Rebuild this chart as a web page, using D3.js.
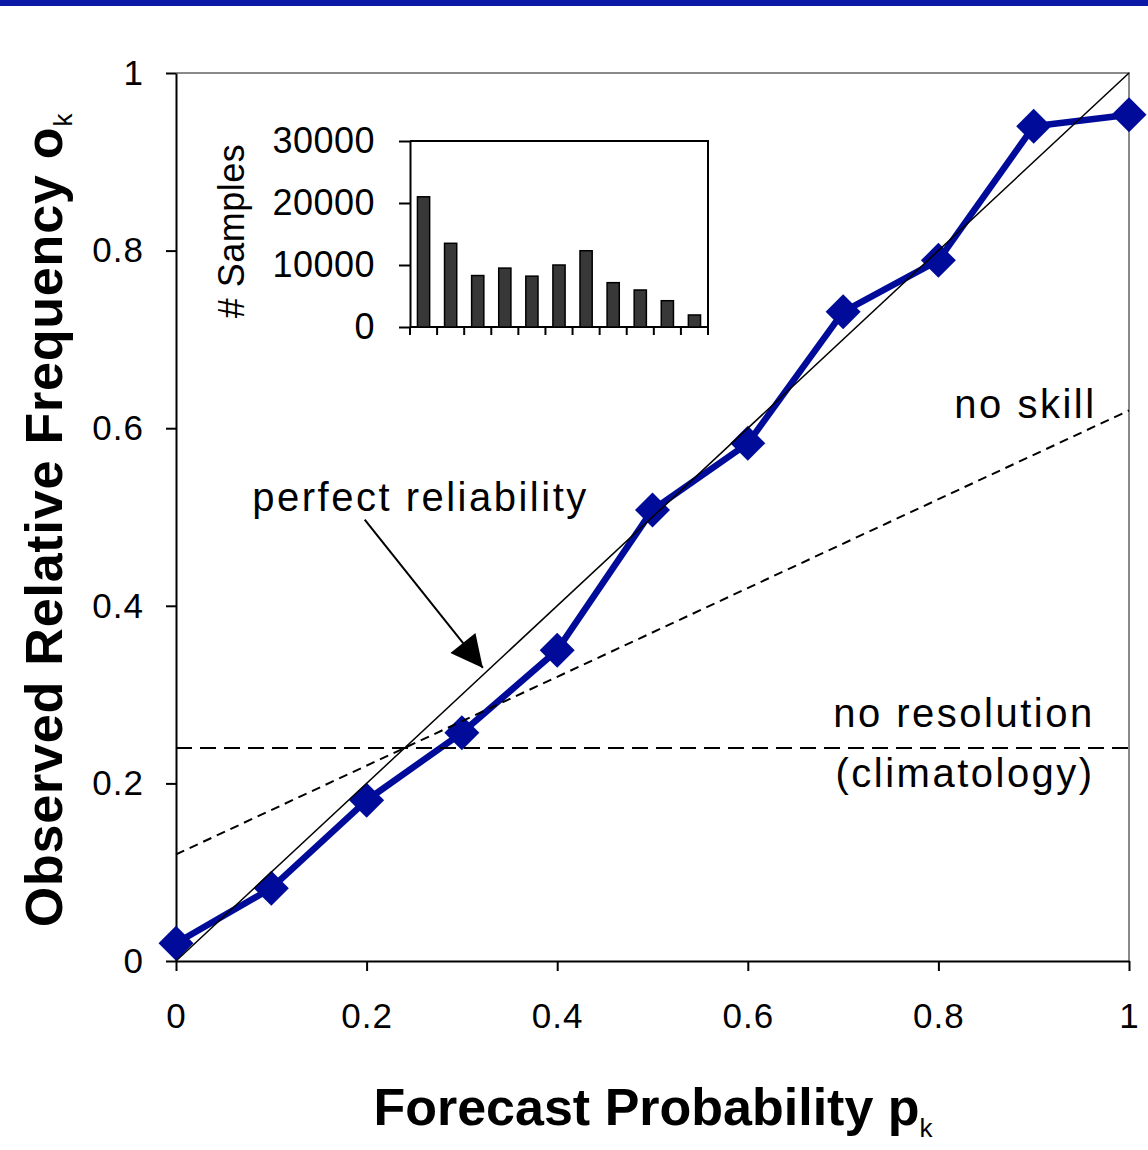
<!DOCTYPE html>
<html>
<head>
<meta charset="utf-8">
<script src="https://cdn.jsdelivr.net/npm/d3@7"></script>
<style>
  body { margin: 0; background: #fff; }
  text { font-family: "Liberation Sans", Arial, sans-serif; fill: #000; }
  .axis path, .axis line { stroke: #000; stroke-width: 2; }
  .axis text { font-size: 35px; letter-spacing: 1px; }
</style>
</head>
<body>
<div id="chart"></div>
<script>
// forecast probability bins and observed relative frequency
const probs = [0, 0.1, 0.2, 0.3, 0.4, 0.5, 0.6, 0.7, 0.8, 0.9, 1.0];
const observed = [0.02, 0.082, 0.181, 0.257, 0.35, 0.508, 0.583, 0.731, 0.789, 0.94, 0.953];

// number of samples in each bin (inset histogram)
const samples = [21000, 13500, 8300, 9500, 8200, 10000, 12300, 7150, 5970, 4240, 1940];

// reference lines
const climatology = 0.24;
const noSkill = [[0, 0.12], [1, 0.62]];
const perfect = [[0, 0], [1, 1]];

const mainTicks = [0, 0.2, 0.4, 0.6, 0.8, 1];
const insetTicks = [0, 10000, 20000, 30000];

const W = 1148, H = 1150;
const svg = d3.select("#chart").append("svg")
    .attr("width", W)
    .attr("height", H);

svg.append("rect").attr("width", W).attr("height", H).attr("fill", "#fff");
// blue band at the very top
svg.append("rect").attr("x", 0).attr("y", 0).attr("width", W).attr("height", 6).attr("fill", "#0a1aa6");

const x = d3.scaleLinear().domain([0, 1]).range([176, 1129]);
const y = d3.scaleLinear().domain([0, 1]).range([961, 73]);

const fmt = d => (d === 0 || d === 1) ? String(d) : d.toFixed(1);

// plot frame (gray top/right)
svg.append("path")
    .attr("d", `M${x(0)},${y(1)}H${x(1)}V${y(0)}`)
    .attr("fill", "none")
    .attr("stroke", "#8a8a8a")
    .attr("stroke-width", 2);

svg.append("g")
    .attr("class", "axis")
    .attr("transform", `translate(${x(0)},0)`)
    .call(d3.axisLeft(y).tickValues(mainTicks).tickSize(10).tickSizeOuter(0).tickPadding(22).tickFormat(fmt));

svg.append("g")
    .attr("class", "axis")
    .attr("transform", `translate(0,${y(0)})`)
    .call(d3.axisBottom(x).tickValues(mainTicks).tickSize(10).tickSizeOuter(0).tickPadding(32).tickFormat(fmt));

svg.selectAll(".axis .domain").attr("stroke-width", 2.5);

// observed series
const line = d3.line().x((d, i) => x(probs[i])).y(d => y(d));
svg.append("path")
    .datum(observed)
    .attr("d", line)
    .attr("fill", "none")
    .attr("stroke", "#000c99")
    .attr("stroke-width", 6.5)
    .attr("stroke-linejoin", "round");

const r = 17.5;
svg.selectAll(".pt")
    .data(observed)
    .enter()
    .append("path")
    .attr("class", "pt")
    .attr("transform", (d, i) => `translate(${x(probs[i])},${y(d)})`)
    .attr("d", `M0,${-r}L${r},0L0,${r}L${-r},0Z`)
    .attr("fill", "#000c99");

// reference lines
const refLine = d3.line().x(d => x(d[0])).y(d => y(d[1]));
svg.append("path")
    .datum(perfect)
    .attr("d", refLine)
    .attr("stroke", "#000")
    .attr("stroke-width", 1.5);

svg.append("path")
    .datum(noSkill)
    .attr("d", refLine)
    .attr("stroke", "#000")
    .attr("stroke-width", 2)
    .attr("stroke-dasharray", "9,6");

svg.append("line")
    .attr("x1", x(0)).attr("x2", x(1))
    .attr("y1", y(climatology)).attr("y2", y(climatology))
    .attr("stroke", "#000")
    .attr("stroke-width", 2)
    .attr("stroke-dasharray", "16,8");

// annotations
const note = svg.append("g").style("font-size", "40px").style("letter-spacing", "2.5px");
note.append("text").attr("x", x(0.08)).attr("y", y(0.507)).text("perfect reliability");
note.append("text").attr("x", x(0.966)).attr("y", y(0.612)).attr("text-anchor", "end").text("no skill");
note.append("text").attr("x", x(0.964)).attr("y", y(0.263)).attr("text-anchor", "end").text("no resolution");
note.append("text").attr("x", x(0.964)).attr("y", y(0.196)).attr("text-anchor", "end").text("(climatology)");

svg.append("defs").append("marker")
    .attr("id", "arrow")
    .attr("viewBox", "0 0 10 10")
    .attr("refX", 10).attr("refY", 5)
    .attr("markerWidth", 36).attr("markerHeight", 32)
    .attr("markerUnits", "userSpaceOnUse")
    .attr("orient", "auto")
    .append("path")
    .attr("d", "M0,0L10,5L0,10Z")
    .attr("fill", "#000");

svg.append("line")
    .attr("x1", x(0.198)).attr("y1", y(0.497))
    .attr("x2", x(0.322)).attr("y2", y(0.33))
    .attr("stroke", "#000")
    .attr("stroke-width", 2)
    .attr("marker-end", "url(#arrow)");

// axis titles
const yTitle = svg.append("text")
    .attr("transform", `translate(62,520) rotate(-90)`)
    .attr("text-anchor", "middle")
    .style("font-size", "52px")
    .style("font-weight", "bold")
    .style("letter-spacing", "0.8px");
yTitle.append("tspan").text("Observed Relative Frequency  o");
yTitle.append("tspan").attr("dy", 10).style("font-size", "26px").style("font-weight", "normal").text("k");

const xTitle = svg.append("text")
    .attr("x", 653).attr("y", 1125)
    .attr("text-anchor", "middle")
    .style("font-size", "52px")
    .style("font-weight", "bold");
xTitle.append("tspan").text("Forecast Probability p");
xTitle.append("tspan").attr("dy", 12).style("font-size", "26px").style("font-weight", "normal").text("k");

// inset histogram
const ix = d3.scaleBand().domain(d3.range(samples.length)).range([410, 708]).paddingInner(0.55).paddingOuter(0.275);
const iy = d3.scaleLinear().domain([0, 30000]).range([327, 141]);

const inset = svg.append("g");
inset.append("path")
    .attr("d", `M${ix.range()[0]},${iy(30000)}H${ix.range()[1]}V${iy(0)}`)
    .attr("fill", "none")
    .attr("stroke", "#000")
    .attr("stroke-width", 2);

inset.append("g")
    .attr("class", "axis")
    .attr("transform", `translate(${ix.range()[0]},0)`)
    .call(d3.axisLeft(iy).tickValues(insetTicks).tickSize(11).tickSizeOuter(0).tickPadding(24).tickFormat(d3.format("d")))
    .selectAll("text").style("font-size", "36px").style("letter-spacing", "0.5px");

inset.append("line")
    .attr("x1", ix.range()[0]).attr("x2", ix.range()[1])
    .attr("y1", iy(0)).attr("y2", iy(0))
    .attr("stroke", "#000").attr("stroke-width", 2);

inset.selectAll(".itick")
    .data(d3.range(samples.length + 1))
    .enter()
    .append("line")
    .attr("x1", i => ix.range()[0] + i * ix.step())
    .attr("x2", i => ix.range()[0] + i * ix.step())
    .attr("y1", iy(0)).attr("y2", iy(0) + 8)
    .attr("stroke", "#000").attr("stroke-width", 2);

inset.selectAll(".bar")
    .data(samples)
    .enter()
    .append("rect")
    .attr("class", "bar")
    .attr("x", (d, i) => ix(i))
    .attr("y", d => iy(d))
    .attr("width", ix.bandwidth())
    .attr("height", d => iy(0) - iy(d))
    .attr("fill", "#383838")
    .attr("stroke", "#000")
    .attr("stroke-width", 1.5);

inset.append("text")
    .attr("transform", `translate(244,231) rotate(-90)`)
    .attr("text-anchor", "middle")
    .style("font-size", "36px")
    .style("letter-spacing", "0.5px")
    .text("# Samples");
</script>
</body>
</html>
